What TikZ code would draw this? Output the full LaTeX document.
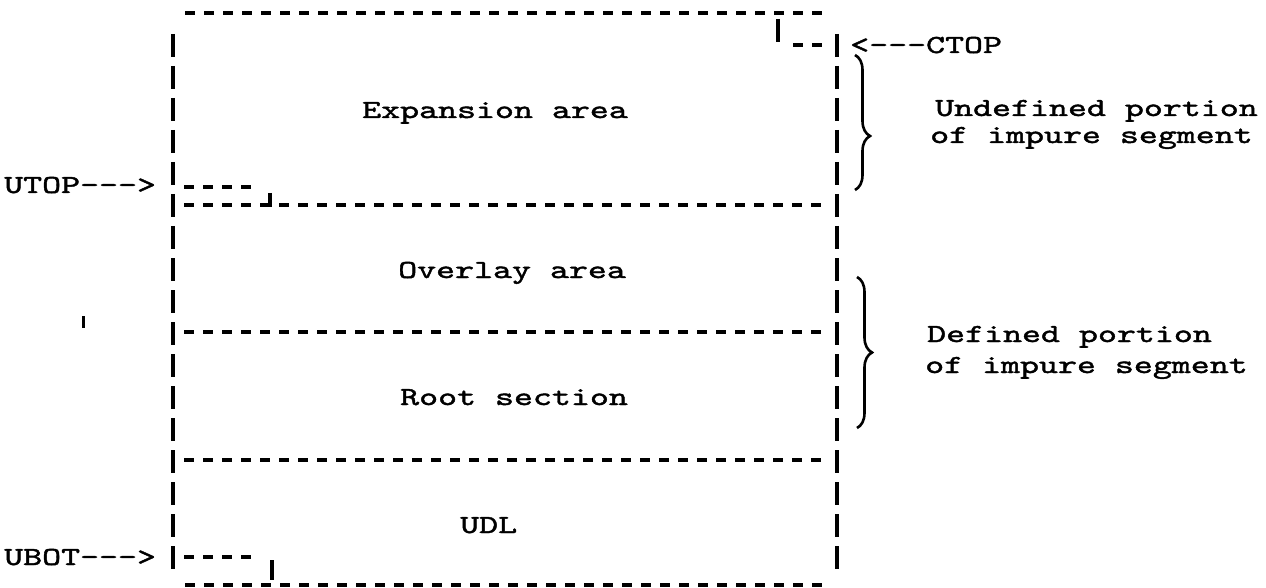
\documentclass[tikz,border=0pt]{standalone}
\usepackage{fontspec}
\newfontfamily\tw{lmmono10-regular}[Extension=.otf, FakeStretch=1.39, FakeBold=1.6]
\usetikzlibrary{decorations.pathreplacing}
\begin{document}
\begin{tikzpicture}[x=1pt,y=-1pt,
  hdash/.style={line width=3.2pt, dash pattern=on 10pt off 9pt},
  vbar/.style={line width=3.4pt, dash pattern=on 23pt off 9pt},
  solidbar/.style={line width=3.4pt},
  lbl/.style={anchor=base west, inner sep=0pt, font=\tw\fontsize{26}{30}\selectfont},
  brc/.style={decorate, decoration={brace, amplitude=15pt}, line width=2.6pt}]
\useasboundingbox (0,0) rectangle (1266,588);
% top line and CTOP mark
\draw[hdash] (185,13) -- (822,13);
\draw[solidbar] (778,19) -- (778,42);
\draw[hdash] (793,45) -- (822,45);
% side bars
\draw[vbar] (173,34) -- (173,570);
\draw[vbar] (837,34) -- (837,570);
% section lines
\draw[hdash] (184,205) -- (822,205);
\draw[hdash] (184,332) -- (822,332);
\draw[hdash] (184,460) -- (822,460);
\draw[hdash] (185,585) -- (822,585);
% UTOP / UBOT marks
\draw[hdash] (184,187) -- (260,187);
\draw[solidbar] (270,193) -- (270,207);
\draw[hdash] (184,557) -- (260,557);
\draw[solidbar] (272,560) -- (272,580);
% stray tick
\draw[line width=3pt] (83,316) -- (83,328);
% labels
\node[lbl] (utop) at (4,193) {UTOP--->};
\node[lbl] (ubot) at (4,565) {UBOT--->};
\node[lbl] (ctop) at (850,53) {<---CTOP};
\node[lbl] (exp) at (362,118) {Expansion area};
\node[lbl] (ovl) at (398,278) {Overlay area};
\node[lbl] (root) at (400,405) {Root section};
\node[lbl] (udl) at (460,533) {UDL};
\node[lbl] (undef1) at (935,116) {Undefined portion};
\node[lbl] (undef2) at (930,143) {of impure segment};
\node[lbl] (def1) at (927,342) {Defined portion};
\node[lbl] (def2) at (925,373) {of impure segment};
% braces
\draw[brc, decoration={aspect=0.6}] (855,55) -- (855,190);
\draw[brc, decoration={aspect=0.5}] (857,277) -- (857,428);
\end{tikzpicture}
\end{document}
